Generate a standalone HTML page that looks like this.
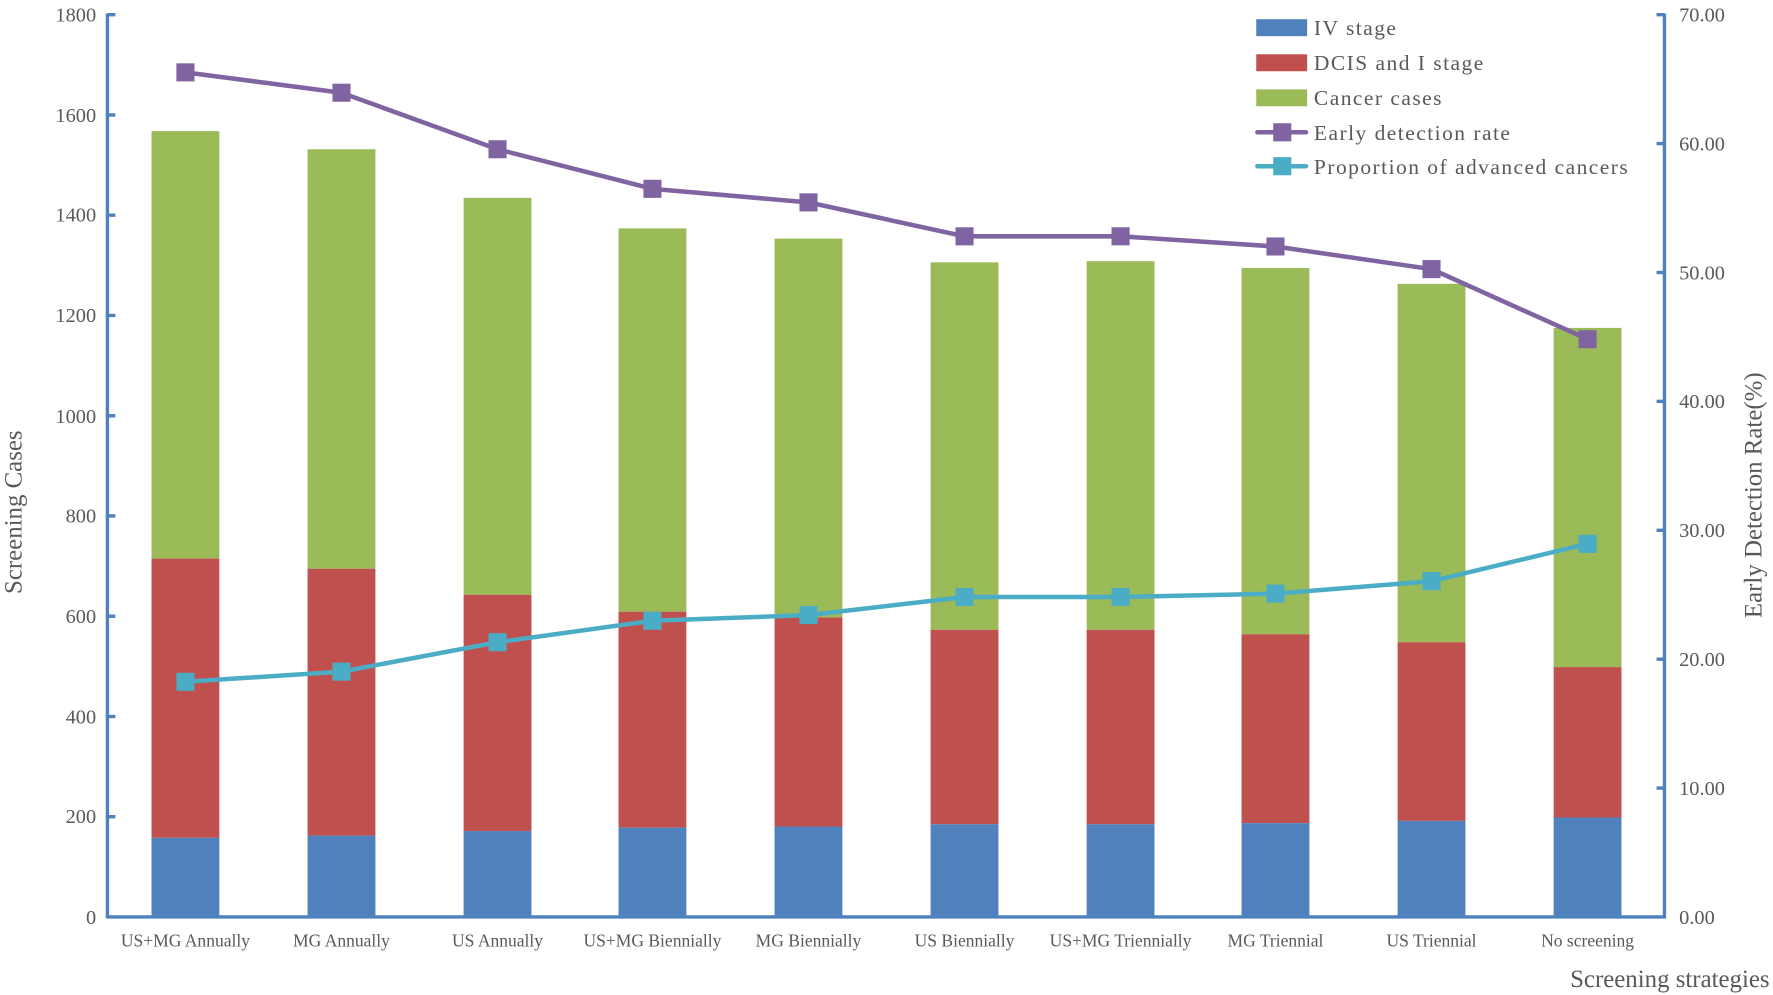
<!DOCTYPE html>
<html><head><meta charset="utf-8"><style>html,body{margin:0;padding:0;background:#fff}svg{display:block}</style></head>
<body>
<svg width="1773" height="995" viewBox="0 0 1568 880" preserveAspectRatio="none" xmlns="http://www.w3.org/2000/svg" font-family="'Liberation Serif', serif" fill="#595959">
<g>
<rect x="134" y="116" width="60" height="378" fill="#9BBB59"/><rect x="134" y="494" width="60" height="247" fill="#C0504D"/><rect x="134" y="741" width="60" height="70" fill="#4F81BD"/>
<rect x="272" y="132" width="60" height="371" fill="#9BBB59"/><rect x="272" y="503" width="60" height="236" fill="#C0504D"/><rect x="272" y="739" width="60" height="72" fill="#4F81BD"/>
<rect x="410" y="175" width="60" height="351" fill="#9BBB59"/><rect x="410" y="526" width="60" height="209" fill="#C0504D"/><rect x="410" y="735" width="60" height="76" fill="#4F81BD"/>
<rect x="547" y="202" width="60" height="339" fill="#9BBB59"/><rect x="547" y="541" width="60" height="191" fill="#C0504D"/><rect x="547" y="732" width="60" height="79" fill="#4F81BD"/>
<rect x="685" y="211" width="60" height="335" fill="#9BBB59"/><rect x="685" y="546" width="60" height="185" fill="#C0504D"/><rect x="685" y="731" width="60" height="80" fill="#4F81BD"/>
<rect x="823" y="232" width="60" height="325" fill="#9BBB59"/><rect x="823" y="557" width="60" height="172" fill="#C0504D"/><rect x="823" y="729" width="60" height="82" fill="#4F81BD"/>
<rect x="961" y="231" width="60" height="326" fill="#9BBB59"/><rect x="961" y="557" width="60" height="172" fill="#C0504D"/><rect x="961" y="729" width="60" height="82" fill="#4F81BD"/>
<rect x="1098" y="237" width="60" height="324" fill="#9BBB59"/><rect x="1098" y="561" width="60" height="167" fill="#C0504D"/><rect x="1098" y="728" width="60" height="83" fill="#4F81BD"/>
<rect x="1236" y="251" width="60" height="317" fill="#9BBB59"/><rect x="1236" y="568" width="60" height="158" fill="#C0504D"/><rect x="1236" y="726" width="60" height="85" fill="#4F81BD"/>
<rect x="1374" y="290" width="60" height="300" fill="#9BBB59"/><rect x="1374" y="590" width="60" height="133" fill="#C0504D"/><rect x="1374" y="723" width="60" height="88" fill="#4F81BD"/>
</g>
<polyline points="164,64 302,82 440,132 577,167 715,179 853,209 991,209 1128,218 1266,238 1404,300" fill="none" stroke="#8064A2" stroke-width="4" stroke-linejoin="round"/>
<g fill="#8064A2">
<rect x="156" y="56" width="16" height="16"/><rect x="294" y="74" width="16" height="16"/><rect x="432" y="124" width="16" height="16"/><rect x="569" y="159" width="16" height="16"/><rect x="707" y="171" width="16" height="16"/><rect x="845" y="201" width="16" height="16"/><rect x="983" y="201" width="16" height="16"/><rect x="1120" y="210" width="16" height="16"/><rect x="1258" y="230" width="16" height="16"/><rect x="1396" y="292" width="16" height="16"/>
</g>
<polyline points="164,603 302,594 440,568 577,549 715,544 853,528 991,528 1128,525 1266,514 1404,481" fill="none" stroke="#4BACC6" stroke-width="4" stroke-linejoin="round"/>
<g fill="#4BACC6">
<rect x="156" y="595" width="16" height="16"/><rect x="294" y="586" width="16" height="16"/><rect x="432" y="560" width="16" height="16"/><rect x="569" y="541" width="16" height="16"/><rect x="707" y="536" width="16" height="16"/><rect x="845" y="520" width="16" height="16"/><rect x="983" y="520" width="16" height="16"/><rect x="1120" y="517" width="16" height="16"/><rect x="1258" y="506" width="16" height="16"/><rect x="1396" y="473" width="16" height="16"/>
</g>
<g stroke="#4F81BD" stroke-width="3">
<line x1="95" y1="12" x2="95" y2="812"/><line x1="1472" y1="12" x2="1472" y2="812"/><line x1="94" y1="811" x2="1473" y2="811"/>
<line x1="95" y1="722.3" x2="102" y2="722.3"/><line x1="95" y1="633.7" x2="102" y2="633.7"/><line x1="95" y1="545" x2="102" y2="545"/><line x1="95" y1="456.3" x2="102" y2="456.3"/><line x1="95" y1="367.7" x2="102" y2="367.7"/><line x1="95" y1="279" x2="102" y2="279"/><line x1="95" y1="190.3" x2="102" y2="190.3"/><line x1="95" y1="101.7" x2="102" y2="101.7"/><line x1="95" y1="13" x2="102" y2="13"/>
<line x1="1465" y1="697" x2="1472" y2="697"/><line x1="1465" y1="583" x2="1472" y2="583"/><line x1="1465" y1="469" x2="1472" y2="469"/><line x1="1465" y1="355" x2="1472" y2="355"/><line x1="1465" y1="241" x2="1472" y2="241"/><line x1="1465" y1="127" x2="1472" y2="127"/><line x1="1465" y1="13" x2="1472" y2="13"/>
</g>
<g font-size="18" text-anchor="end">
<text x="85" y="817">0</text><text x="85" y="728">200</text><text x="85" y="640">400</text><text x="85" y="551">600</text><text x="85" y="462">800</text><text x="85" y="374">1000</text><text x="85" y="285">1200</text><text x="85" y="196">1400</text><text x="85" y="108">1600</text><text x="85" y="19">1800</text>
</g>
<g font-size="18">
<text x="1485" y="817">0.00</text><text x="1485" y="703">10.00</text><text x="1485" y="589">20.00</text><text x="1485" y="475">30.00</text><text x="1485" y="361">40.00</text><text x="1485" y="247">50.00</text><text x="1485" y="133">60.00</text><text x="1485" y="19">70.00</text>
</g>
<g font-size="15.5" text-anchor="middle">
<text x="164" y="837">US+MG Annually</text><text x="302" y="837">MG Annually</text><text x="440" y="837">US Annually</text><text x="577" y="837">US+MG Biennially</text><text x="715" y="837">MG Biennially</text><text x="853" y="837">US Biennially</text><text x="991" y="837">US+MG Triennially</text><text x="1128" y="837">MG Triennial</text><text x="1266" y="837">US Triennial</text><text x="1404" y="837">No screening</text>
</g>
<text x="1565" y="873" font-size="22" text-anchor="end">Screening strategies</text>
<text transform="translate(19,453) rotate(-90)" font-size="22" text-anchor="middle">Screening Cases</text>
<text transform="translate(1558,438) rotate(-90)" font-size="22" text-anchor="middle">Early Detection Rate(%)</text>
<g font-size="19" letter-spacing="1.3">
<rect x="1111" y="17" width="45" height="15" fill="#4F81BD"/><text x="1162" y="31">IV stage</text>
<rect x="1111" y="48" width="45" height="15" fill="#C0504D"/><text x="1162" y="62">DCIS and I stage</text>
<rect x="1111" y="79" width="45" height="15" fill="#9BBB59"/><text x="1162" y="93">Cancer cases</text>
<line x1="1112" y1="117" x2="1155" y2="117" stroke="#8064A2" stroke-width="4" stroke-linecap="round"/><rect x="1126" y="109" width="16" height="16" fill="#8064A2"/><text x="1162" y="124">Early detection rate</text>
<line x1="1112" y1="147" x2="1155" y2="147" stroke="#4BACC6" stroke-width="4" stroke-linecap="round"/><rect x="1126" y="139" width="16" height="16" fill="#4BACC6"/><text x="1162" y="154">Proportion of advanced cancers</text>
</g>
</svg>
</body></html>
